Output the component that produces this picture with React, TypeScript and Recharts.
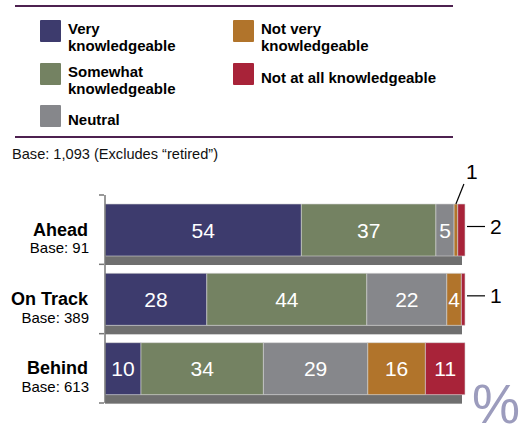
import React from 'react';
import { BarChart, Bar, XAxis, YAxis, LabelList } from 'recharts';

/* ---------- DATA ---------- */
const categories = ['Ahead', 'On Track', 'Behind'];
const bases = [91, 389, 613];
const veryKnow = [54, 28, 10];
const somewhatKnow = [37, 44, 34];
const neutral = [5, 22, 29];
const notVeryKnow = [1, 4, 16];
const notAtAllKnow = [2, 1, 11];
const baseNote = 'Base: 1,093 (Excludes \u201cretired\u201d)';

const series = [
  { key: 'very', name: 'Very knowledgeable', values: veryKnow, color: '#3d3b6d', callout: 'right' },
  { key: 'somewhat', name: 'Somewhat knowledgeable', values: somewhatKnow, color: '#748262', callout: 'right' },
  { key: 'neutral', name: 'Neutral', values: neutral, color: '#86878b', callout: 'right' },
  { key: 'notVery', name: 'Not very knowledgeable', values: notVeryKnow, color: '#b1742b', callout: 'up' },
  { key: 'notAtAll', name: 'Not at all knowledgeable', values: notAtAllKnow, color: '#a82339', callout: 'right' },
];

const data = categories.map((name, i) => {
  const row: Record<string, string | number> = { name, base: bases[i] };
  series.forEach((s) => {
    row[s.key] = s.values[i];
  });
  return row;
});

/* ---------- LAYOUT ---------- */
const W = 525;
const H = 436;
const MARGIN = { top: 195, right: 60, bottom: 33, left: 0 };
const AXIS_W = 105;
const HALF_BAND = (H - MARGIN.top - MARGIN.bottom) / categories.length / 2;
const FONT = '"Liberation Sans", Arial, Helvetica, sans-serif';

const CategoryTick = (props: any) => {
  const { y, index, payload } = props;
  const axisX = MARGIN.left + AXIS_W - 1;
  const row = data[index];
  return (
    <g>
      <line x1={axisX - 5} x2={axisX} y1={y - HALF_BAND} y2={y - HALF_BAND} stroke="#777" strokeWidth={1.5} />
      {index === categories.length - 1 && (
        <line x1={axisX - 5} x2={axisX} y1={y + HALF_BAND} y2={y + HALF_BAND} stroke="#777" strokeWidth={1.5} />
      )}
      <text x={88} y={y + 6} textAnchor="end" fontSize={18} fontWeight="bold" fill="#000" fontFamily={FONT}>
        {payload.value}
      </text>
      <text x={89} y={y + 23.5} textAnchor="end" fontSize={15} fill="#000" fontFamily={FONT}>
        Base: {row ? row.base : ''}
      </text>
    </g>
  );
};

const makeLabel = (callout: string) => (props: any) => {
  const { x, y, width, height, value } = props;
  const v = Number(value);
  if (v >= 3) {
    return (
      <text x={x + width / 2} y={y + height / 2 + 7.5} textAnchor="middle" fontSize={21} fill="#fff" fontFamily={FONT}>
        {v}
      </text>
    );
  }
  if (callout === 'up') {
    const cx = x + width / 2;
    return (
      <g>
        <line x1={cx} y1={y} x2={cx + 8} y2={y - 20} stroke="#000" strokeWidth={1.2} />
        <text x={cx + 16} y={y - 25} textAnchor="middle" fontSize={21} fill="#000" fontFamily={FONT}>
          {v}
        </text>
      </g>
    );
  }
  const cy = y + height / 2 - 3.5;
  return (
    <g>
      <line x1={x + width + 2} y1={cy} x2={x + width + 20} y2={cy} stroke="#000" strokeWidth={1.2} />
      <text x={x + width + 25} y={cy + 7.5} fontSize={21} fill="#000" fontFamily={FONT}>
        {v}
      </text>
    </g>
  );
};

const Shadow = (props: any) => {
  const { x, y, width, height } = props;
  return <rect x={x} y={y + height} width={width - 3} height={9} fill="#6f6f6f" />;
};

const legendPos = [
  { left: 40, top: 20 },
  { left: 40, top: 63 },
  { left: 40, top: 105 },
  { left: 233, top: 20 },
  { left: 233, top: 63 },
];

const Legend = () => (
  <>
    {series.map((s, i) => {
      const pos = legendPos[i];
      const words = s.name.split(' ');
      const twoLines = s.name.length < 24 && words.length > 1;
      return (
        <div key={s.key} style={{ position: 'absolute', left: pos.left, top: pos.top }}>
          <div style={{ position: 'absolute', left: 0, top: 0, width: 21, height: 22, background: s.color, borderRadius: 1 }} />
          <div
            style={{
              position: 'absolute',
              left: 28,
              top: twoLines ? 0 : 6,
              fontFamily: FONT,
              fontWeight: 'bold',
              fontSize: 15,
              lineHeight: '17px',
              whiteSpace: 'nowrap',
              color: '#000',
            }}
          >
            {twoLines ? (
              <>
                {words.slice(0, -1).join(' ')}
                <br />
                {words[words.length - 1]}
              </>
            ) : (
              s.name
            )}
          </div>
        </div>
      );
    })}
  </>
);

export default function App() {
  return (
    <div style={{ position: 'absolute', left: 0, top: 0, width: W, height: H, background: '#fff', overflow: 'hidden' }}>
      <div style={{ position: 'absolute', left: 15, top: 5, width: 438, height: 2, background: '#4e2150' }} />
      <Legend />
      <div style={{ position: 'absolute', left: 15, top: 136, width: 438, height: 2, background: '#4e2150' }} />
      <div
        style={{
          position: 'absolute',
          left: 12,
          top: 146,
          fontFamily: FONT,
          fontSize: 14.6,
          lineHeight: '17px',
          color: '#111',
          whiteSpace: 'nowrap',
        }}
      >
        {baseNote}
      </div>
      <div style={{ position: 'absolute', left: 0, top: 0 }}>
        <BarChart width={W} height={H} data={data} layout="vertical" margin={MARGIN} stackOffset="expand" barSize={52}>
          <XAxis type="number" hide domain={[0, 1]} />
          <YAxis
            type="category"
            dataKey="name"
            width={AXIS_W}
            axisLine={{ stroke: '#777', strokeWidth: 1.5 }}
            tickLine={false}
            tick={<CategoryTick />}
            interval={0}
          />
          {series.map((s, i) => (
            <Bar
              key={s.key}
              dataKey={s.key}
              name={s.name}
              stackId="a"
              fill={s.color}
              stroke="#d4d4d4"
              strokeWidth={0.6}
              isAnimationActive={false}
              background={i === 0 ? <Shadow /> : undefined}
            >
              <LabelList dataKey={s.key} content={makeLabel(s.callout)} />
            </Bar>
          ))}
        </BarChart>
      </div>
      <svg style={{ position: 'absolute', left: 0, top: 0 }} width={W} height={H}>
        <text
          x={472}
          y={423}
          fontSize={56}
          fill="#9c9cbd"
          fontFamily={FONT}
          textLength={48}
          lengthAdjust="spacingAndGlyphs"
        >
          %
        </text>
      </svg>
    </div>
  );
}
